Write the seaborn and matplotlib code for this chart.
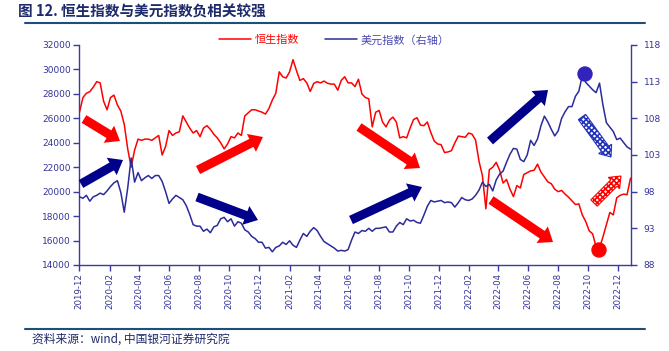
import numpy as np
import pandas as pd
import matplotlib
matplotlib.use("Agg")
import matplotlib.pyplot as plt
from matplotlib.patches import FancyArrow, Circle
from matplotlib.lines import Line2D
from matplotlib.transforms import IdentityTransform
import seaborn as sns

# ---------------- data (weekly readings) ----------------
start_date = "2019-12-02"
hsi_values = [
    26500, 27700, 28050, 28180, 28550, 29000, 28900, 27400, 26700, 27700,
    27900, 27100, 26600, 25500, 23500, 22000, 23400, 24300, 24200, 24300,
    24300, 24200, 24400, 24600, 23000, 23700, 25000, 24600, 24800, 24900,
    26200, 25700, 25200, 24800, 25000, 24500, 25200, 25400, 25100, 24700,
    24400, 24000, 23500, 23900, 24500, 24400, 24800, 24600, 26200, 26450,
    26700, 26700, 26600, 26500, 26350, 26800, 27500, 28050, 29800, 29400,
    29300, 29800, 30800, 29900, 29100, 29250, 28900, 28200, 28850, 29000,
    28900, 29050, 28870, 28800, 28800, 28300, 29100, 29400, 28900, 28900,
    28600, 29200, 28000, 27700, 27600, 25300, 26500, 26650, 25700, 25300,
    25850, 26100, 25700, 24400, 24500, 24400, 25200, 25900, 26050, 25450,
    25400, 25700, 24850, 24150, 23900, 23850, 23200, 23250, 23350, 24000,
    24550, 24500, 24450, 24800, 24700, 24230, 22500, 21300, 18600, 21800,
    22000, 22400, 21750, 20700, 21000, 20200, 19600, 20500, 20300, 21400,
    21550, 21700, 21750, 22250, 21600, 21200, 20800, 20650, 20200, 20000,
    20100, 19800, 19550, 19250, 18950, 19000, 18100, 17550, 16800, 16550,
    15500, 15400, 16300, 17300, 18300, 18100, 19500, 19700, 19800, 19750, 21100,
]
dxy_values = [
    97.3, 97.1, 97.5, 96.7, 97.3, 97.5, 97.8, 97.6, 98.1, 98.7,
    99.2, 99.5, 97.9, 95.2, 98.5, 102.6, 99.3, 100.6, 99.5, 99.9,
    100.2, 99.8, 100.2, 100.2, 99.4, 98.0, 96.4, 97.0, 97.5, 97.2,
    96.9, 96.1, 94.9, 93.5, 93.3, 93.3, 92.6, 92.9, 92.4, 93.2,
    93.4, 94.3, 94.5, 93.9, 94.3, 93.3, 93.9, 93.7, 92.8, 92.5,
    91.9, 91.6, 91.1, 91.1, 90.3, 90.4, 89.8, 90.4, 90.6, 91.1,
    90.8, 91.3, 90.7, 90.4, 91.4, 92.3, 91.9, 92.6, 93.1, 92.7,
    91.9, 91.2, 90.9, 90.6, 90.3, 89.9, 90.0, 89.9, 90.1, 91.4,
    92.5, 92.3, 92.7, 92.6, 93.0, 92.6, 93.0, 93.0, 93.1, 93.2,
    92.5, 92.5, 93.3, 93.8, 93.5, 94.3, 94.0, 94.1, 93.8, 93.7,
    94.8, 96.0, 96.8, 96.6, 96.7, 96.8, 96.5, 96.6, 96.5, 95.9,
    96.5, 97.2, 96.9, 96.8, 97.0, 97.5, 98.2, 99.3, 98.7, 99.0,
    98.1, 99.6, 100.4, 100.8, 102.0, 103.1, 103.9, 103.8, 102.4, 102.1,
    103.0, 105.0, 104.3, 105.2, 107.0, 108.3, 107.5, 106.5, 105.6, 106.3,
    108.0, 108.9, 109.6, 109.6, 111.0, 111.7, 113.8, 112.9, 112.4, 111.9,
    111.5, 112.8, 109.8, 107.4, 106.8, 106.2, 105.1, 105.3, 104.7, 104.1, 103.8,
]
title_text = "图 12. 恒生指数与美元指数负相关较强"
source_text = "资料来源：wind, 中国银河证券研究院"
hsi_label = "恒生指数"
dxy_label = "美元指数（右轴）"
left_ticks = [14000, 16000, 18000, 20000, 22000, 24000, 26000, 28000, 30000, 32000]
right_ticks = [88, 93, 98, 103, 108, 113, 118]
xtick_dates = ["2019-12", "2020-02", "2020-04", "2020-06", "2020-08", "2020-10",
               "2020-12", "2021-02", "2021-04", "2021-06", "2021-08", "2021-10",
               "2021-12", "2022-02", "2022-04", "2022-06", "2022-08", "2022-10",
               "2022-12"]

dates = pd.date_range(start_date, periods=len(hsi_values), freq="7D")
df = pd.DataFrame({"date": dates, "hsi": hsi_values, "dxy": dxy_values})

# ---------------- style ----------------
sns.set_theme(style="white")
CJK = ["Noto Sans CJK SC", "DejaVu Sans"]
plt.rcParams["font.family"] = ["DejaVu Sans", "Noto Sans CJK SC"]
plt.rcParams["axes.unicode_minus"] = False
plt.rcParams["hatch.linewidth"] = 1.2

RED = "#FF0000"
BLUE_LINE = "#2B2B9A"
AXIS = "#3A3AA0"
LABEL = "#333399"
NAVY = "#00008B"

W, H = 669, 351
fig = plt.figure(figsize=(W / 100, H / 100), dpi=100)
fig.patch.set_facecolor("white")
ax = fig.add_axes([79 / W, 1 - 265 / H, (631 - 79) / W, 220 / H])
ax.set_facecolor("none")

sns.lineplot(data=df, x="date", y="hsi", ax=ax, color=RED, lw=1.1, label=hsi_label, legend=False)
ax2 = ax.twinx()
sns.lineplot(data=df, x="date", y="dxy", ax=ax2, color=BLUE_LINE, lw=1.1, label=dxy_label, legend=False)

ax.set_ylim(left_ticks[0], left_ticks[-1])
ax2.set_ylim(right_ticks[0], right_ticks[-1])
ax.set_xlim(pd.Timestamp("2019-12-01"), pd.Timestamp("2022-12-27"))
ax.set_yticks(left_ticks)
ax.set_yticklabels([str(v) for v in left_ticks])
ax2.set_yticks(right_ticks)
ax2.set_yticklabels([str(v) for v in right_ticks])
xt = pd.to_datetime([d + "-01" for d in xtick_dates])
ax.set_xticks(xt)
ax.set_xticklabels(xtick_dates, rotation=90)
ax.set_xlabel("")
ax.set_ylabel("")
ax2.set_ylabel("")

for a in (ax, ax2):
    for s in a.spines.values():
        s.set_visible(False)
        s.set_color(AXIS)
        s.set_linewidth(1.0)
ax.spines["left"].set_visible(True)
ax.spines["bottom"].set_visible(True)
ax2.spines["right"].set_visible(True)

ax.tick_params(axis="y", left=True, direction="out", length=4, width=1, color=AXIS,
               labelcolor=LABEL, labelsize=6.5, pad=2)
ax.tick_params(axis="x", bottom=True, direction="out", length=4, width=1, color=AXIS,
               labelcolor=LABEL, labelsize=6.2, pad=2)
ax2.tick_params(axis="y", right=True, direction="out", length=4, width=1, color=AXIS,
                labelcolor=LABEL, labelsize=6.5, pad=5)
ax.grid(False)
ax2.grid(False)

# legend
h1 = ax.get_lines()[0]
h2 = ax2.get_lines()[0]
leg = fig.legend([h1, h2], [hsi_label, dxy_label], loc="center", ncol=2,
                 bbox_to_anchor=(334 / W, 1 - 40 / H), frameon=False,
                 prop={"family": CJK, "size": 8}, handlelength=2.9,
                 handletextpad=0.3, columnspacing=2.3)
leg.get_texts()[0].set_color(RED)
leg.get_texts()[1].set_color("#4A4AB0")

# title, rules and source
fig.text(18 / W, 1 - 12 / H, title_text, ha="left", va="center", fontsize=10.5,
         fontweight="bold", color="#1F2A6B", family=CJK)
for yy in (23, 329):
    fig.add_artist(Line2D([25 / W, 645 / W], [1 - yy / H, 1 - yy / H],
                          transform=fig.transFigure, color="#1F4E79", lw=1.5))
fig.text(32 / W, 1 - 339 / H, source_text, ha="left", va="center", fontsize=8.5,
         style="italic", color="#1F2A6B", family=CJK)

# annotation arrows (image pixel coordinates)
arrows = [
    (84, 119, 120, 141, RED, False),
    (81, 184, 123, 160, NAVY, False),
    (198, 170, 263, 137, RED, False),
    (197, 197, 258, 220, NAVY, False),
    (359, 127, 420, 168, RED, False),
    (351, 220, 422, 187, NAVY, False),
    (490, 141, 548, 90, NAVY, False),
    (491, 200, 553, 242, RED, False),
    (582, 117, 611, 157, "#2233BB", True),
    (594, 203, 621, 176, RED, True),
]
for x0, y0, x1, y1, c, hatched in arrows:
    if hatched:
        arr = FancyArrow(x0, H - y0, x1 - x0, -(y1 - y0), width=9, head_width=16,
                         head_length=10, length_includes_head=True,
                         transform=IdentityTransform(), facecolor="white",
                         edgecolor=c, hatch="xxxxxx", lw=0.8)
    else:
        arr = FancyArrow(x0, H - y0, x1 - x0, -(y1 - y0), width=9, head_width=20,
                         head_length=13, length_includes_head=True,
                         transform=IdentityTransform(), color=c, lw=0)
    fig.add_artist(arr)

fig.add_artist(Circle((585, H - 74), 7, transform=IdentityTransform(), color="#3322BB"))
fig.add_artist(Circle((599, H - 250), 7, transform=IdentityTransform(), color=RED))

fig.savefig("out.png", dpi=100)
